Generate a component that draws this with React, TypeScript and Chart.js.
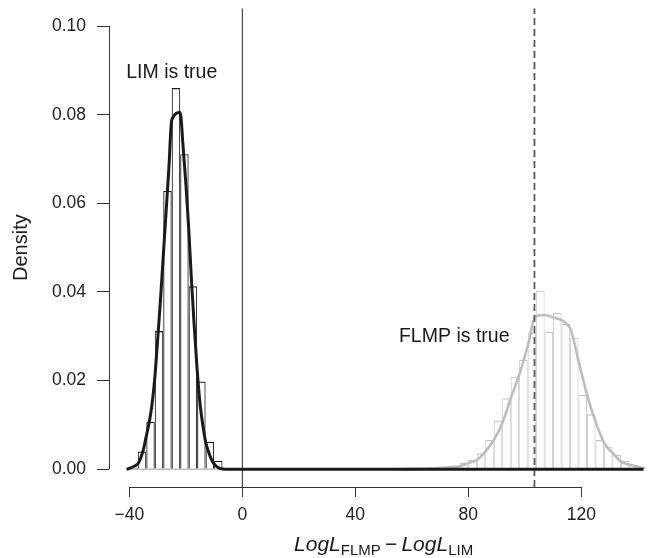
import React, { useEffect, useRef } from "react";
import { Chart, registerables } from "chart.js";

Chart.register(...registerables);

// ---------- data ----------
const binWidth = 3;

// LIM-is-true histogram: left edges of bins and densities
const limBinStarts = [-40, -37, -34, -31, -28, -25, -22, -19, -16, -13, -10];
const limHeights = [0.0004, 0.004, 0.0107, 0.0312, 0.0628, 0.086, 0.0711, 0.0413, 0.0198, 0.0062, 0.0019];

// FLMP-is-true histogram
const flmpBinStarts = [68, 71, 74, 77, 80, 83, 86, 89, 92, 95, 98, 101, 104, 107, 110, 113, 116, 119, 122, 125, 128, 131, 134, 137];
const flmpHeights = [0.0002, 0.0004, 0.0008, 0.0014, 0.0021, 0.0036, 0.0066, 0.011, 0.016, 0.0209, 0.0247, 0.0308, 0.0403, 0.031, 0.0353, 0.0328, 0.0297, 0.0168, 0.0124, 0.0066, 0.0051, 0.0032, 0.0019, 0.001];

// LIM density curve (black)
const limCurveX = [-41, -40, -38, -37, -36, -35, -34, -33, -32, -31, -30, -29, -28, -27, -26, -25, -22, -21, -20, -19, -18, -17, -16, -15, -14, -13, -12, -11, -10, -9, -8, -6, 142];
const limCurveY = [0, 0.0002, 0.0008, 0.0012, 0.0025, 0.0045, 0.0075, 0.0105, 0.0145, 0.0205, 0.029, 0.038, 0.048, 0.058, 0.068, 0.0788, 0.0805, 0.073, 0.0645, 0.0545, 0.0425, 0.032, 0.0225, 0.015, 0.01, 0.0062, 0.004, 0.0023, 0.0012, 0.0006, 0.0002, 0, 0];

// FLMP density curve (grey)
const flmpCurveX = [55, 62, 68, 74, 77, 80, 83, 86, 89, 92, 95, 98, 101, 103.6, 106.8, 110.3, 113.9, 116.3, 119.2, 122.2, 125.2, 128.1, 131.2, 134.1, 137.1, 140.1, 142.5];
const flmpCurveY = [0, 0.0001, 0.0002, 0.0005, 0.0007, 0.0014, 0.0021, 0.004, 0.0066, 0.0104, 0.016, 0.0213, 0.0277, 0.0343, 0.0348, 0.0342, 0.0333, 0.0314, 0.0239, 0.0164, 0.0104, 0.0059, 0.0036, 0.0017, 0.001, 0.0005, 0.0002];

// reference lines
const baselineX = [-40, 140];
const zeroLineX = 0;
const observedX = 103.4;

// axes
const xTicks = [-40, 0, 40, 80, 120];
const yTicks = [0, 0.02, 0.04, 0.06, 0.08, 0.1];
const xRange = [-47.2, 144.3];
const yRange = [-0.004, 0.104];
const xTitleCenter = 50; // centre of R's extended x range

// annotations
const annotations = [
  { x: -25, y: 0.0895, text: "LIM is true" },
  { x: 75, y: 0.03, text: "FLMP is true" },
];

const FONT = '"Liberation Sans", Arial, Helvetica, sans-serif';

export default function App() {
  const ref = useRef<HTMLCanvasElement>(null);

  useEffect(() => {
    const canvas = ref.current;
    if (!canvas) return;

    const bars = (starts: number[], heights: number[]) =>
      starts.map((s, i) => ({ x: s + binWidth / 2, y: heights[i] }));
    const pts = (xs: number[], ys: number[]) => xs.map((x, i) => ({ x, y: ys[i] }));

    const overlay = {
      id: "rOverlay",
      afterDraw(chart: any) {
        const { ctx, chartArea } = chart;
        const xs = chart.scales.x;
        const ys = chart.scales.y;
        ctx.save();
        // axis lines (R style: from first to last tick)
        ctx.strokeStyle = "#333";
        ctx.lineWidth = 1;
        const xb = Math.round(chartArea.bottom - 0.5) + 0.5;
        ctx.beginPath();
        ctx.moveTo(xs.getPixelForValue(xTicks[0]), xb);
        ctx.lineTo(xs.getPixelForValue(xTicks[xTicks.length - 1]), xb);
        ctx.stroke();
        const yl = Math.round(chartArea.left - 0.5) + 0.5;
        ctx.beginPath();
        ctx.moveTo(yl, ys.getPixelForValue(yTicks[0]));
        ctx.lineTo(yl, ys.getPixelForValue(yTicks[yTicks.length - 1]));
        ctx.stroke();

        // annotations
        ctx.fillStyle = "#1a1a1a";
        ctx.font = `19.5px ${FONT}`;
        ctx.textAlign = "center";
        ctx.textBaseline = "middle";
        for (const a of annotations) {
          ctx.fillText(a.text, xs.getPixelForValue(a.x), ys.getPixelForValue(a.y));
        }

        // x-axis title with subscripts
        const parts = [
          { t: "LogL", font: `italic 21px ${FONT}`, dy: 0 },
          { t: "FLMP", font: `15px ${FONT}`, dy: 4 },
          { t: "\u2009\u2212\u2009", font: `21px ${FONT}`, dy: 0 },
          { t: "LogL", font: `italic 21px ${FONT}`, dy: 0 },
          { t: "LIM", font: `15px ${FONT}`, dy: 4 },
        ];
        let total = 0;
        const widths = parts.map((p) => {
          ctx.font = p.font;
          const w = ctx.measureText(p.t).width;
          total += w;
          return w;
        });
        let cx = xs.getPixelForValue(xTitleCenter) - total / 2;
        const base = chartArea.bottom + 64;
        ctx.textAlign = "left";
        ctx.textBaseline = "alphabetic";
        parts.forEach((p, i) => {
          ctx.font = p.font;
          ctx.fillText(p.t, cx, base + p.dy);
          cx += widths[i];
        });
        ctx.restore();
      },
    };

    const zeroPad = (s: any) => {
      s.paddingTop = 0;
      s.paddingBottom = 0;
      s.paddingLeft = 0;
      s.paddingRight = 0;
    };

    const chart = new Chart(canvas, {
      type: "bar",
      data: {
        datasets: [
          {
            type: "line",
            label: "LIM density",
            data: pts(limCurveX, limCurveY),
            borderColor: "#1a1a1a",
            borderWidth: 3,
            pointRadius: 0,
            fill: false,
            cubicInterpolationMode: "monotone",
            order: 1,
          } as any,
          {
            type: "line",
            label: "observed",
            data: [
              { x: observedX, y: yRange[0] },
              { x: observedX, y: yRange[1] },
            ],
            borderColor: "#5a5a5a",
            borderWidth: 1.8,
            borderDash: [7, 4],
            pointRadius: 0,
            fill: false,
            order: 2,
          },
          {
            type: "line",
            label: "zero",
            data: [
              { x: zeroLineX, y: yRange[0] },
              { x: zeroLineX, y: yRange[1] },
            ],
            borderColor: "#222",
            borderWidth: 1,
            pointRadius: 0,
            fill: false,
            order: 3,
          },
          {
            type: "line",
            label: "FLMP density",
            data: pts(flmpCurveX, flmpCurveY),
            borderColor: "#bdbdbd",
            borderWidth: 2.6,
            pointRadius: 0,
            fill: false,
            cubicInterpolationMode: "monotone",
            order: 4,
          } as any,
          {
            type: "line",
            label: "baseline",
            data: baselineX.map((x) => ({ x, y: 0 })),
            borderColor: "#bdbdbd",
            borderWidth: 1.5,
            pointRadius: 0,
            fill: false,
            order: 5,
          },
          {
            type: "bar",
            label: "FLMP histogram",
            data: bars(flmpBinStarts, flmpHeights),
            backgroundColor: "rgba(0,0,0,0)",
            borderColor: "#c4c4c4",
            borderWidth: { top: 1.2, left: 0.8, right: 0.8, bottom: 0 },
            borderSkipped: "start",
            barPercentage: 1,
            categoryPercentage: 1,
            grouped: false,
            inflateAmount: 0,
            order: 6,
          } as any,
          {
            type: "bar",
            label: "LIM histogram",
            data: bars(limBinStarts, limHeights),
            backgroundColor: "rgba(0,0,0,0)",
            borderColor: "#1a1a1a",
            borderWidth: { top: 1.2, left: 1, right: 1, bottom: 0 },
            borderSkipped: "start",
            barPercentage: 1,
            categoryPercentage: 1,
            grouped: false,
            inflateAmount: 0,
            order: 7,
          } as any,
        ],
      },
      options: {
        responsive: false,
        animation: false,
        devicePixelRatio: 1,
        layout: { padding: { top: 8.3, left: 0, right: 0, bottom: 0 } },
        plugins: { legend: { display: false }, tooltip: { enabled: false } },
        scales: {
          x: {
            type: "linear",
            min: xRange[0],
            max: xRange[1],
            offset: false,
            afterBuildTicks: (s: any) => {
              s.ticks = xTicks.map((v) => ({ value: v }));
            },
            afterFit: (s: any) => {
              s.height = 71;
              zeroPad(s);
            },
            grid: {
              display: true,
              offset: false,
              drawOnChartArea: false,
              drawTicks: true,
              tickLength: 10,
              color: "#333",
              lineWidth: 1,
            },
            border: { display: false },
            ticks: {
              autoSkip: false,
              maxRotation: 0,
              padding: 8,
              color: "#222",
              font: { family: FONT, size: 17.5 },
              callback: (v: any) => (Number(v) < 0 ? "\u2212" + Math.abs(Number(v)) : String(v)),
            },
          },
          y: {
            type: "linear",
            min: yRange[0],
            max: yRange[1],
            afterBuildTicks: (s: any) => {
              s.ticks = yTicks.map((v) => ({ value: v }));
            },
            afterFit: (s: any) => {
              s.width = 109;
              zeroPad(s);
            },
            grid: {
              display: true,
              drawOnChartArea: false,
              drawTicks: true,
              tickLength: 12,
              color: "#333",
              lineWidth: 1,
            },
            border: { display: false },
            title: {
              display: true,
              text: "Density",
              color: "#222",
              font: { family: FONT, size: 20 },
              padding: { top: 9, bottom: 0 },
            },
            ticks: {
              padding: 11,
              color: "#222",
              font: { family: FONT, size: 17.5 },
              callback: (v: any) => Number(v).toFixed(2),
            },
          },
        },
      },
      plugins: [overlay],
    } as any);

    return () => chart.destroy();
  }, []);

  return (
    <div style={{ position: "fixed", left: 0, top: 0, width: 650, height: 558, background: "#fff" }}>
      <canvas ref={ref} width={650} height={558} style={{ display: "block" }} />
    </div>
  );
}
